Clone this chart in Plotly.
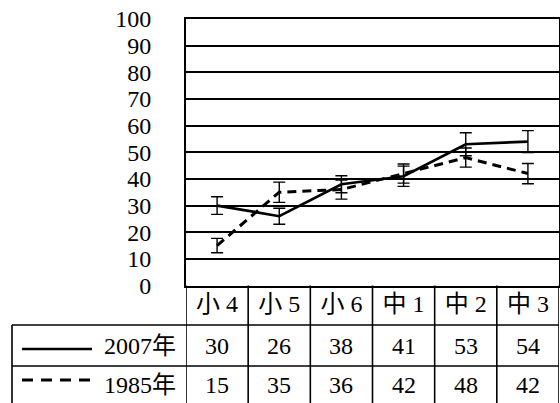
import plotly.graph_objects as go

categories = ["小 4", "小 5", "小 6", "中 1", "中 2", "中 3"]
series_2007 = [30, 26, 38, 41, 53, 54]
series_1985 = [15, 35, 36, 42, 48, 42]
err_2007 = [3.3, 3.0, 3.2, 3.8, 4.3, 4.1]
err_1985 = [2.7, 3.8, 3.6, 3.6, 3.6, 3.8]
name_2007 = "2007年"
name_1985 = "1985年"
y_ticks = list(range(0, 101, 10))

W, H = 560, 403
FONT = "Liberation Serif, Noto Sans CJK JP"
FS = 24

def py(pix):
    return (H - pix) / H

x_left, x_right = 186, 559
y_top, y_bot = 19, 285.5

fig = go.Figure()
fig.add_trace(go.Scatter(
    x=categories, y=series_2007, mode="lines", name=name_2007,
    line=dict(color="black", width=2.7),
    error_y=dict(type="data", array=err_2007, visible=True, color="black", thickness=1.4, width=6),
    showlegend=False))
fig.add_trace(go.Scatter(
    x=categories, y=series_1985, mode="lines", name=name_1985,
    line=dict(color="black", width=3, dash="9px,6px"),
    error_y=dict(type="data", array=err_1985, visible=True, color="black", thickness=1.4, width=6),
    showlegend=False))

shapes = []
line_style = dict(color="black", width=1.6)
for yy in (325, 366):
    shapes.append(dict(type="line", xref="paper", yref="paper", x0=12 / W, x1=x_right / W,
                       y0=py(yy), y1=py(yy), line=line_style))
for i in range(len(categories) + 1):
    shapes.append(dict(type="line", xref="x", yref="paper", x0=i - 0.5, x1=i - 0.5,
                       y0=py(y_bot), y1=py(H + 5), line=line_style))
shapes.append(dict(type="line", xref="paper", yref="paper", x0=12 / W, x1=12 / W,
                   y0=py(325), y1=py(H + 5), line=line_style))
shapes.append(dict(type="line", xref="paper", yref="paper", x0=22 / W, x1=92 / W,
                   y0=py(349), y1=py(349), line=dict(color="black", width=2.5)))
shapes.append(dict(type="line", xref="paper", yref="paper", x0=22 / W, x1=92 / W,
                   y0=py(380), y1=py(380), line=dict(color="black", width=3, dash="11px,8px")))

annotations = []
for c, v in zip(categories, series_2007):
    annotations.append(dict(x=c, xref="x", y=py(345.5), yref="paper", text=str(v),
                            showarrow=False, font=dict(family=FONT, size=FS, color="black"),
                            xanchor="center", yanchor="middle"))
for c, v in zip(categories, series_1985):
    annotations.append(dict(x=c, xref="x", y=py(385), yref="paper", text=str(v),
                            showarrow=False, font=dict(family=FONT, size=FS, color="black"),
                            xanchor="center", yanchor="middle"))
annotations.append(dict(x=178 / W, xref="paper", y=py(345.5), yref="paper", text=name_2007,
                        showarrow=False, font=dict(family=FONT, size=FS, color="black"),
                        xanchor="right", yanchor="middle"))
annotations.append(dict(x=178 / W, xref="paper", y=py(385), yref="paper", text=name_1985,
                        showarrow=False, font=dict(family=FONT, size=FS, color="black"),
                        xanchor="right", yanchor="middle"))

fig.update_layout(
    width=W, height=H,
    margin=dict(l=0, r=0, t=0, b=0, autoexpand=False),
    paper_bgcolor="white", plot_bgcolor="white",
    shapes=shapes, annotations=annotations,
    xaxis=dict(domain=[x_left / W, x_right / W], type="category",
               categoryorder="array", categoryarray=categories,
               range=[-0.5, len(categories) - 0.5], automargin=False,
               showgrid=False, zeroline=False,
               showline=True, linecolor="black", linewidth=2, mirror=True,
               ticks="", ticklabelstandoff=-4,
               tickfont=dict(family=FONT, size=FS, color="black")),
    yaxis=dict(domain=[py(y_bot), py(y_top)], range=[0, 100], automargin=False,
               tickvals=y_ticks, ticktext=[str(t) for t in y_ticks],
               showgrid=True, gridcolor="black", gridwidth=1.5,
               zeroline=False,
               showline=True, linecolor="black", linewidth=2, mirror=True,
               ticks="", ticklabelstandoff=28,
               tickfont=dict(family=FONT, size=FS, color="black")),
)

fig.write_html("out.html")
